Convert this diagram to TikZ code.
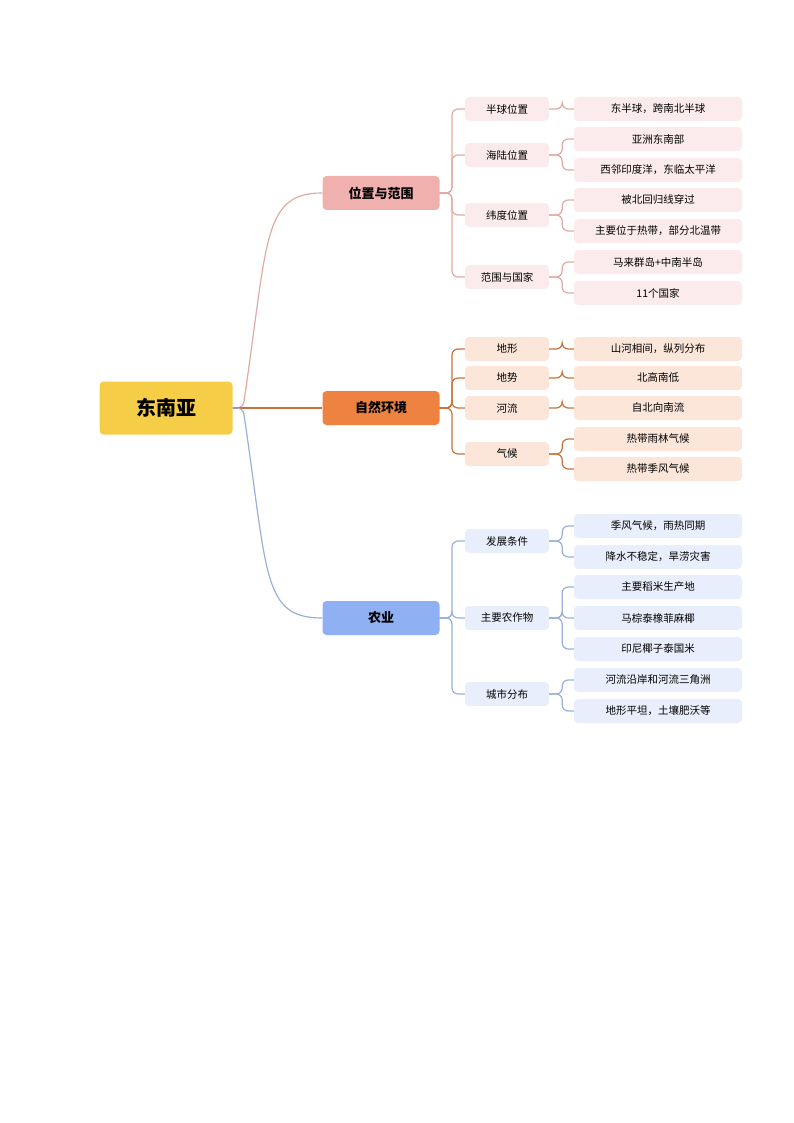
\documentclass[tikz,border=0pt]{standalone}
\usepackage{fontspec}
\setmainfont{Noto Sans CJK SC}
\usetikzlibrary{positioning}

\definecolor{rootfill}{HTML}{F5CD47}
\definecolor{lineA}{HTML}{E0AAA5}
\definecolor{fillA}{HTML}{F0B0AE}
\definecolor{lightA}{HTML}{FCEBEC}
\definecolor{lineB}{HTML}{C8733A}
\definecolor{fillB}{HTML}{EE8240}
\definecolor{lightB}{HTML}{FBE6D9}
\definecolor{lineC}{HTML}{9AB0D8}
\definecolor{fillC}{HTML}{8FB0F2}
\definecolor{lightC}{HTML}{E8EEFB}

\tikzset{
  root/.style={fill=rootfill, rounded corners=4pt, minimum width=133pt, minimum height=53pt, font=\fontsize{20}{24}\selectfont\bfseries},
  main/.style={rounded corners=4pt, minimum width=117pt, minimum height=34pt, font=\fontsize{13}{16}\selectfont\bfseries},
  sub/.style={rounded corners=4pt, minimum width=84pt, minimum height=24pt, font=\fontsize{10.5}{13}\selectfont},
  leaf/.style={rounded corners=4pt, minimum width=168pt, minimum height=24pt, font=\fontsize{10.5}{13}\selectfont},
  link/.style={line width=1.2pt, rounded corners=6pt}
}

\begin{document}
\begin{tikzpicture}[x=1pt, y=-1pt]
    \useasboundingbox (0,0) rectangle (794,1123);

    % Root and main branches
    \node[root] (root) at (166,408) {东南亚};
    \node[main, fill=fillA] (pos) at (381,193) {位置与范围};
    \node[main, fill=fillB] (env) at (381,408) {自然环境};
    \node[main, fill=fillC] (agr) at (381,618) {农业};

    \draw[link, lineA] (root.east) -- (243,408) .. controls (268,240) and (262,193) .. (pos.west);
    \draw[link, lineB] (root.east) -- (env.west);
    \draw[link, lineC] (root.east) -- (243,408) .. controls (268,576) and (262,618) .. (agr.west);

    % Position and extent
    \foreach \name/\y/\txt in {a1/109/半球位置, a2/155/海陆位置, a3/215/纬度位置, a4/277/范围与国家} {
        \node[sub, fill=lightA] (\name) at (507,\y) {\txt};
        \draw[link, lineA] (pos.east) -- (452,193) |- (\name.west);
    }
    \foreach \name/\src/\y/\txt in {a11/a1/109/东半球，跨南北半球, a21/a2/139/亚洲东南部, a22/a2/170/西邻印度洋，东临太平洋,
        a31/a3/200/被北回归线穿过, a32/a3/231/主要位于热带，部分北温带, a41/a4/262/马来群岛+中南半岛, a42/a4/293/11个国家} {
        \node[leaf, fill=lightA] (\name) at (658,\y) {\txt};
        \draw[link, lineA] (\src.east) -- ++(13,0) |- (\name.west);
    }

    % Natural environment
    \foreach \name/\y/\txt in {b1/349/地形, b2/378/地势, b3/408/河流, b4/454/气候} {
        \node[sub, fill=lightB] (\name) at (507,\y) {\txt};
        \draw[link, lineB] (env.east) -- (452,408) |- (\name.west);
    }
    \foreach \name/\src/\y/\txt in {b11/b1/349/山河相间，纵列分布, b21/b2/378/北高南低, b31/b3/408/自北向南流,
        b41/b4/439/热带雨林气候, b42/b4/469/热带季风气候} {
        \node[leaf, fill=lightB] (\name) at (658,\y) {\txt};
        \draw[link, lineB] (\src.east) -- ++(13,0) |- (\name.west);
    }

    % Agriculture
    \foreach \name/\y/\txt in {c1/541/发展条件, c2/618/主要农作物, c3/694/城市分布} {
        \node[sub, fill=lightC] (\name) at (507,\y) {\txt};
        \draw[link, lineC] (agr.east) -- (452,618) |- (\name.west);
    }
    \foreach \name/\src/\y/\txt in {c11/c1/526/季风气候，雨热同期, c12/c1/557/降水不稳定，旱涝灾害, c21/c2/587/主要稻米生产地,
        c22/c2/618/马棕泰橡菲麻椰, c23/c2/649/印尼椰子泰国米, c31/c3/680/河流沿岸和河流三角洲, c32/c3/711/地形平坦，土壤肥沃等} {
        \node[leaf, fill=lightC] (\name) at (658,\y) {\txt};
        \draw[link, lineC] (\src.east) -- ++(13,0) |- (\name.west);
    }
\end{tikzpicture}
\end{document}
